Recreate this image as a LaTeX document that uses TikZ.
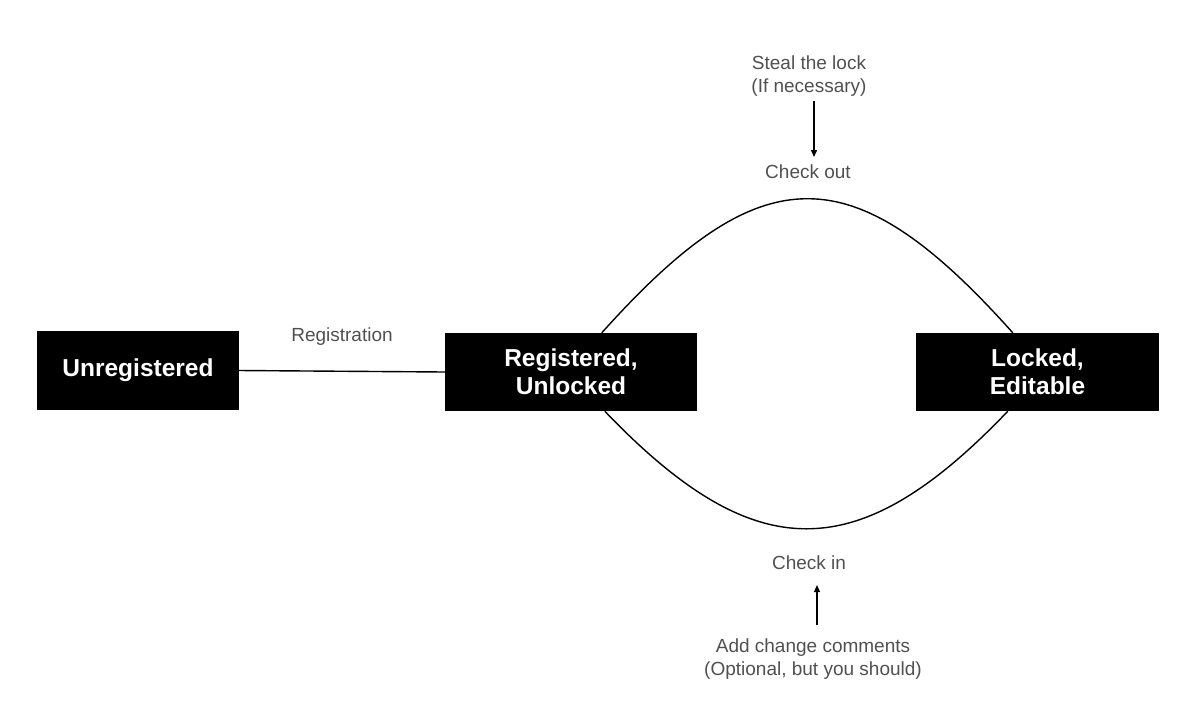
\documentclass[tikz,border=0pt]{standalone}
\usepackage{fontspec}
\setmainfont{Liberation Sans}
\usetikzlibrary{arrows.meta,calc}
\definecolor{lblgray}{HTML}{505050}
\begin{document}
\begin{tikzpicture}[x=1pt,y=-1pt,
  state/.style={fill=black,text=white,font=\fontsize{24.5}{28}\selectfont\bfseries,align=center,inner sep=0pt},
  lbl/.style={text=lblgray,font=\fontsize{19}{22.5}\selectfont,align=center,inner sep=0pt},
  conn/.style={line width=1.4pt},
  arr/.style={line width=1.4pt,-{Triangle[length=7pt,width=6pt]}}]
\useasboundingbox (0,0) rectangle (1200,721);
\node[state,minimum width=202pt,minimum height=79pt] (u) at (138,370.5) {Unregistered};
\node[state,minimum width=252pt,minimum height=78pt] (r) at (571,372) {Registered,\\Unlocked};
\node[state,minimum width=243pt,minimum height=78pt] (l) at (1037.5,372) {Locked,\\Editable};

\draw[conn] (u.east) -- (r.west);
\draw[conn] ($(r.north west)+(157,0)$) .. controls (762,154) and (853,154) .. ($(l.north west)+(97,0)$);
\draw[conn] ($(r.south west)+(160,0)$) .. controls (755,568) and (858,568) .. ($(l.south west)+(92,0)$);

\node[lbl] (reg) at (342,337) {Registration};
\node[lbl] (steal) at (809,76) {Steal the lock\\(If necessary)};
\node[lbl] (co) at (808,172) {Check out};
\node[lbl] (ci) at (809,563) {Check in};
\node[lbl] (add) at (813,659) {Add change comments\\(Optional, but you should)};

\coordinate (s1) at (814,101);
\coordinate (s2) at (814,157);
\coordinate (c1) at (817,625);
\coordinate (c2) at (817,585);
\draw[arr] (s1) -- (s2);
\draw[arr] (c1) -- (c2);
\end{tikzpicture}
\end{document}
